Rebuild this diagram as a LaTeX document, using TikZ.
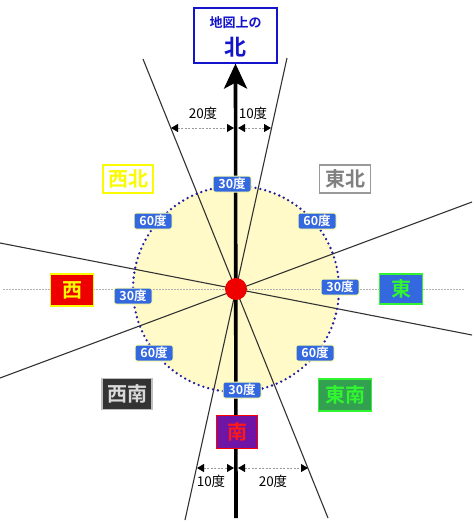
\documentclass[tikz,border=0pt]{standalone}
\usepackage{fontspec}
\setmainfont{Noto Sans CJK JP}[BoldFont={Noto Sans CJK JP Bold}]
\usetikzlibrary{arrows.meta}
\definecolor{lblue}{RGB}{52,104,222}
\definecolor{lyel}{RGB}{255,255,170}
\definecolor{circfill}{RGB}{255,250,200}
\definecolor{dotblue}{RGB}{30,30,160}
\definecolor{nblue}{RGB}{20,20,205}
\definecolor{yel}{RGB}{250,250,0}
\definecolor{grn}{RGB}{50,245,50}
\definecolor{grnfill}{RGB}{50,160,80}
\definecolor{purp}{RGB}{112,20,165}
\definecolor{rd}{RGB}{238,0,0}
\begin{document}
\begin{tikzpicture}[x=1pt,y=-1pt,
  deg/.style={fill=lblue, draw=lyel, line width=1pt, rounded corners=2pt, text=white,
    font=\bfseries\fontsize{12.5}{12.5}\selectfont, minimum width=38, minimum height=16, inner sep=1pt},
  dirbox/.style={line width=1.5pt, font=\bfseries\fontsize{20}{20}\selectfont, inner sep=0pt},
  thin/.style={draw=black!80, line width=1.1pt},
  dim/.style={draw=black!40, line width=0.8pt, dash pattern=on 2pt off 1.5pt,
    {Triangle[black,length=7,width=8]}-{Triangle[black,length=7,width=8]}},
  dimlab/.style={font=\fontsize{13.5}{13.5}\selectfont, inner sep=0pt}]
\useasboundingbox (0,0) rectangle (474,523);
\fill[white] (0,0) rectangle (474,523);
\coordinate (c) at (236,289);
% circle fill
\fill[circfill] (c) circle (103);
% true east-west dotted line
\coordinate (hw) at (3,289);
\coordinate (he) at (465,289);
\draw[black!30, line width=0.7pt, dash pattern=on 1.5pt off 1.5pt] (hw) -- (he);
% thin lines
\coordinate (a1) at (287,58);
\coordinate (a2) at (185,520);
\coordinate (b1) at (143,59);
\coordinate (b2) at (328,518);
\coordinate (p1) at (0,243);
\coordinate (p2) at (472,335);
\coordinate (q1) at (472,202);
\coordinate (q2) at (0,378);
\draw[thin] (a1) -- (a2);
\draw[thin] (b1) -- (b2);
\draw[thin] (p1) -- (p2);
\draw[thin] (q1) -- (q2);
% dotted circle
\draw[dotblue, line width=2.6pt, dash pattern=on 0pt off 5pt, line cap=round] (c) circle (103);
% north box
\node[draw=nblue, line width=1.6pt, fill=white, minimum width=83, minimum height=55, anchor=north] (nbox) at (235.5,7) {};
\node[text=nblue, font=\bfseries\fontsize{13}{13}\selectfont, inner sep=0pt] (nt1) at (235.5,23) {地図上の};
\node[text=nblue, font=\bfseries\fontsize{22}{22}\selectfont, inner sep=0pt] (nt2) at (235.5,47) {北};
% vertical axis with arrow
\coordinate (bot) at (236,518);
\draw[line width=3.6pt, -{Stealth[length=25,width=23,inset=6]}] (bot) -- (nbox.south);
% dimension arrows top
\coordinate (t1) at (171,128);
\coordinate (t2) at (234,128);
\coordinate (t3) at (238,128);
\coordinate (t4) at (271,128);
\draw[dim] (t1) -- (t2);
\draw[dim] (t3) -- (t4);
\node[dimlab] (l20t) at (203,113) {20度};
\node[dimlab] (l10t) at (253,113) {10度};
% dimension arrows bottom
\coordinate (u1) at (197,468);
\coordinate (u2) at (234,468);
\coordinate (u3) at (238,468);
\coordinate (u4) at (308,468);
\draw[dim] (u1) -- (u2);
\draw[dim] (u3) -- (u4);
\node[dimlab] (l10b) at (211,481) {10度};
\node[dimlab] (l20b) at (273,481) {20度};
% degree labels
\node[deg] (d1) at (232,184) {30度};
\node[deg] (d2) at (153,221) {60度};
\node[deg] (d3) at (317,221) {60度};
\node[deg] (d4) at (133,296) {30度};
\node[deg] (d5) at (340,287) {30度};
\node[deg] (d6) at (154,353) {60度};
\node[deg] (d7) at (315,353) {60度};
\node[deg] (d8) at (242,390) {30度};
% direction boxes
\node[dirbox, draw=yel, fill=white, text=yel, minimum width=50, minimum height=28] (nw) at (128,179) {西北};
\node[dirbox, draw=black!40, fill=white, text=black!50, minimum width=51, minimum height=28] (ne) at (345,179) {東北};
\node[dirbox, draw=yel, fill=rd, text=yel, minimum width=43, minimum height=32] (w) at (72,290) {西};
\node[dirbox, draw=grn, fill=lblue, text=grn, minimum width=43, minimum height=30] (e) at (401,289) {東};
\node[dirbox, draw=black!25, fill=black!80, text=black!15, minimum width=50, minimum height=31] (sw) at (127,394) {西南};
\node[dirbox, draw=grn, fill=grnfill, text=grn, minimum width=53, minimum height=32] (se) at (345,395) {東南};
\node[dirbox, draw=red, fill=purp, text=red!90, minimum width=41, minimum height=33] (s) at (237,432) {南};
% red dot
\node[circle, fill=rd, minimum size=22, inner sep=0pt] (dot) at (c) {};
\end{tikzpicture}
\end{document}
